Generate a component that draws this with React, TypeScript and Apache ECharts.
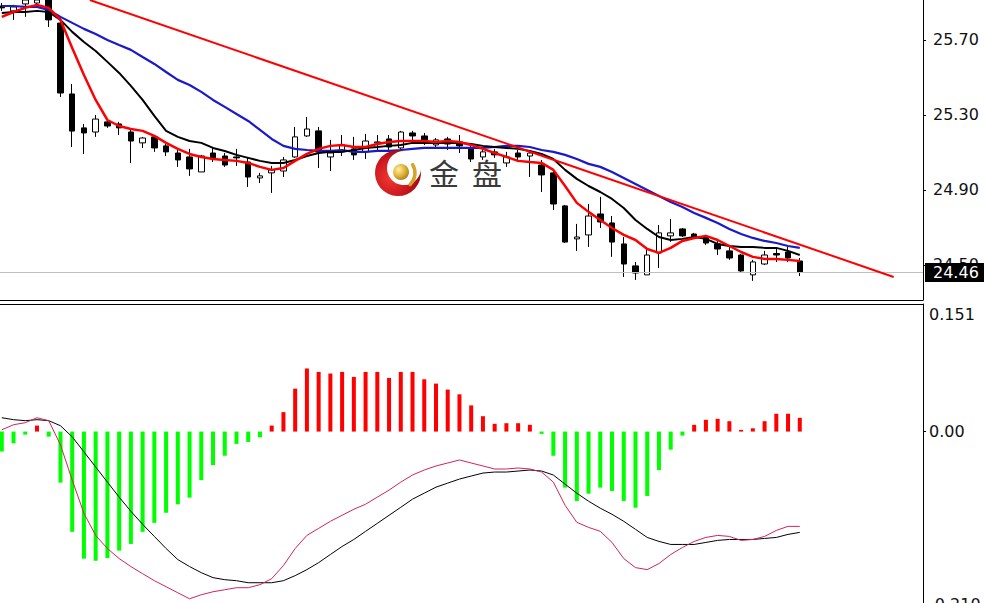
import React, { useEffect, useRef } from "react";
import * as echarts from "echarts";

// ---- price candles (open, close, low, high) ----
const opens = [
  25.881, 25.855, 25.892, 25.897, 25.924, 25.79, 25.412, 25.231, 25.209, 25.263,
  25.252, 25.209, 25.151, 25.183, 25.135, 25.097, 25.076, 24.996, 25.097, 25.081,
  25.076, 25.049, 24.964, 24.991, 25.001, 25.076, 25.188, 25.215, 25.076, 25.103,
  25.119, 25.103, 25.151, 25.172, 25.124, 25.204, 25.188, 25.14, 25.172, 25.156,
  25.119, 25.076, 25.103, 25.044, 25.097, 25.081, 25.033, 24.991, 24.815, 24.639,
  24.66, 24.772, 24.724, 24.612, 24.495, 24.447, 24.564, 24.655, 24.692, 24.665,
  24.649, 24.612, 24.575, 24.553, 24.447, 24.505, 24.561, 24.569, 24.521,
];
const closes = [
  25.871, 25.876, 25.913, 25.913, 25.807, 25.417, 25.214, 25.204, 25.278, 25.241,
  25.231, 25.161, 25.177, 25.124, 25.103, 25.06, 25.012, 25.081, 25.071, 25.033,
  25.071, 24.969, 24.975, 25.007, 25.06, 25.183, 25.225, 25.103, 25.097, 25.14,
  25.087, 25.161, 25.156, 25.129, 25.209, 25.188, 25.167, 25.167, 25.145, 25.135,
  25.065, 25.103, 25.087, 25.076, 25.076, 25.097, 24.98, 24.825, 24.622, 24.649,
  24.761, 24.729, 24.622, 24.505, 24.457, 24.553, 24.671, 24.671, 24.655, 24.644,
  24.617, 24.585, 24.537, 24.468, 24.516, 24.553, 24.553, 24.537, 24.463,
];
const lows = [
  25.855, 25.807, 25.823, 25.871, 25.769, 25.396, 25.129, 25.092, 25.183, 25.231,
  25.193, 25.044, 25.124, 25.103, 25.081, 25.023, 24.975, 24.996, 25.049, 25.023,
  25.028, 24.916, 24.937, 24.884, 24.969, 25.071, 25.183, 25.017, 25.001, 25.081,
  25.06, 25.065, 25.113, 25.113, 25.113, 25.167, 25.14, 25.129, 25.113, 25.097,
  25.049, 25.06, 25.071, 25.023, 25.049, 24.969, 24.889, 24.793, 24.617, 24.575,
  24.596, 24.697, 24.543, 24.436, 24.42, 24.447, 24.484, 24.623, 24.649, 24.639,
  24.607, 24.553, 24.527, 24.463, 24.415, 24.5, 24.516, 24.516, 24.441,
];
const highs = [
  25.897, 25.887, 25.929, 25.924, 25.945, 25.817, 25.465, 25.252, 25.3, 25.278,
  25.263, 25.22, 25.183, 25.193, 25.145, 25.113, 25.119, 25.087, 25.124, 25.097,
  25.119, 25.071, 24.991, 25.028, 25.076, 25.236, 25.289, 25.236, 25.167, 25.193,
  25.183, 25.199, 25.193, 25.193, 25.215, 25.215, 25.204, 25.177, 25.183, 25.193,
  25.135, 25.124, 25.119, 25.103, 25.113, 25.103, 25.06, 25.007, 24.82, 24.719,
  24.825, 24.863, 24.761, 24.649, 24.516, 24.596, 24.713, 24.745, 24.697, 24.671,
  24.66, 24.628, 24.607, 24.559, 24.527, 24.575, 24.591, 24.596, 24.537,
];

// ---- moving averages ----
const maFast = [
  25.823, 25.849, 25.871, 25.887, 25.871, 25.807, 25.657, 25.513, 25.38, 25.273,
  25.241, 25.225, 25.215, 25.188, 25.151, 25.119, 25.092, 25.076, 25.065, 25.06,
  25.055, 25.044, 25.023, 25.007, 25.017, 25.055, 25.092, 25.119, 25.135, 25.14,
  25.129, 25.129, 25.145, 25.156, 25.161, 25.161, 25.161, 25.156, 25.161, 25.156,
  25.14, 25.119, 25.097, 25.076, 25.055, 25.049, 25.044, 25.007, 24.921, 24.831,
  24.783, 24.74, 24.697, 24.66, 24.633, 24.585, 24.564, 24.591, 24.628, 24.644,
  24.655, 24.633, 24.601, 24.569, 24.543, 24.532, 24.532, 24.527, 24.521,
];
const maMid = [
  25.844, 25.849, 25.849, 25.855, 25.849, 25.807, 25.743, 25.689, 25.641, 25.583,
  25.524, 25.455, 25.38, 25.295, 25.215, 25.183, 25.161, 25.151, 25.124, 25.108,
  25.087, 25.071, 25.055, 25.044, 25.044, 25.06, 25.081, 25.097, 25.103, 25.103,
  25.113, 25.124, 25.129, 25.135, 25.14, 25.151, 25.151, 25.151, 25.151, 25.151,
  25.145, 25.135, 25.129, 25.124, 25.119, 25.108, 25.092, 25.065, 25.007, 24.959,
  24.921, 24.889, 24.852, 24.804, 24.74, 24.692, 24.649, 24.633, 24.639, 24.649,
  24.639, 24.612, 24.601, 24.596, 24.596, 24.591, 24.591, 24.575, 24.553,
];
const maSlow = [
  25.881, 25.881, 25.876, 25.876, 25.86, 25.823, 25.791, 25.759, 25.732, 25.7,
  25.673, 25.647, 25.609, 25.572, 25.529, 25.487, 25.46, 25.423, 25.38, 25.343,
  25.305, 25.268, 25.22, 25.172, 25.135, 25.119, 25.113, 25.108, 25.108, 25.113,
  25.103, 25.103, 25.108, 25.108, 25.113, 25.119, 25.124, 25.124, 25.124, 25.124,
  25.124, 25.124, 25.129, 25.135, 25.135, 25.129, 25.113, 25.103, 25.087, 25.065,
  25.039, 25.023, 24.996, 24.964, 24.932, 24.9, 24.868, 24.836, 24.809, 24.777,
  24.751, 24.724, 24.692, 24.665, 24.644, 24.628, 24.617, 24.601, 24.591,
];

// ---- trend line (bar position, price) ----
const trendX = [7.5, 76.0];
const trendY = [25.913, 24.436];

// ---- MACD ----
const macdHist = [
  -0.0235, -0.0139, -0.0036, 0.0071, -0.006, -0.0604, -0.1187, -0.1504, -0.1528, -0.1497,
  -0.1409, -0.133, -0.1187, -0.108, -0.0961, -0.0861, -0.0782, -0.0575, -0.0397, -0.0286,
  -0.0146, -0.0123, -0.0068, 0.0071, 0.023, 0.0508, 0.0747, 0.0706, 0.0687, 0.0706,
  0.0647, 0.0706, 0.0706, 0.0635, 0.0706, 0.0706, 0.0619, 0.0568, 0.0497, 0.0441,
  0.031, 0.0182, 0.0092, 0.0099, 0.0099, 0.008, -0.0027, -0.0286, -0.0663, -0.0822,
  -0.0735, -0.0663, -0.0703, -0.0822, -0.0901, -0.0762, -0.0456, -0.0214, -0.0048, 0.008,
  0.0139, 0.0151, 0.0123, 0.002, 0.0039, 0.0123, 0.0211, 0.0211, 0.0163,
];
const macdSignal = [
  0.0164, 0.0141, 0.0129, 0.0141, 0.0129, 0.0069, -0.0062, -0.024, -0.0419, -0.0598,
  -0.0776, -0.0943, -0.1098, -0.1241, -0.1384, -0.1515, -0.1598, -0.167, -0.1729, -0.1753,
  -0.1765, -0.1789, -0.1789, -0.1789, -0.1765, -0.1705, -0.1634, -0.1551, -0.1455, -0.136,
  -0.1277, -0.1181, -0.1086, -0.0991, -0.0896, -0.08, -0.0729, -0.0658, -0.061, -0.0562,
  -0.0526, -0.0491, -0.0479, -0.0479, -0.0467, -0.0455, -0.0467, -0.0514, -0.0622, -0.0729,
  -0.0824, -0.0907, -0.0979, -0.1062, -0.1157, -0.1253, -0.13, -0.1336, -0.1336, -0.1336,
  -0.1312, -0.1288, -0.1277, -0.1277, -0.1277, -0.1265, -0.1253, -0.1217, -0.1193,
];
const macdMain = [
  0.0021, 0.0081, 0.0105, 0.0164, 0.0129, -0.0157, -0.0574, -0.0967, -0.1229, -0.1384,
  -0.1503, -0.1598, -0.1682, -0.1765, -0.1836, -0.1908, -0.1979, -0.1931, -0.1896, -0.1872,
  -0.1848, -0.1848, -0.1812, -0.1741, -0.1586, -0.1384, -0.1229, -0.1146, -0.1062, -0.0991,
  -0.0919, -0.086, -0.0776, -0.0693, -0.0598, -0.0514, -0.0455, -0.0407, -0.0372, -0.0336,
  -0.0372, -0.0407, -0.0443, -0.0443, -0.0431, -0.0443, -0.0479, -0.0598, -0.0872, -0.1074,
  -0.1134, -0.1181, -0.1312, -0.1503, -0.161, -0.1634, -0.1562, -0.1455, -0.1372, -0.13,
  -0.1253, -0.1229, -0.1241, -0.1288, -0.1277, -0.1241, -0.117, -0.1122, -0.1122,
];

// ---- axis tick labels ----
const priceTicks = [24.5, 24.9, 25.3, 25.7];
const macdTicks = [0];
const macdTop = 0.151;
const macdBottom = -0.21;
const priceMin = 24.313;
const priceMax = 25.913;

const TOTAL_SLOTS = 79;
const categories = Array.from({ length: TOTAL_SLOTS }, (_, i) => String(i + 1));

const CRESCENT_D =
  "M 6.76 -21.98 A 23 23 0 1 0 22.84 -2.68 A 17 17 0 1 1 6.76 -21.98 Z";
let shapesRegistered = false;
function registerShapes() {
  if (shapesRegistered) return;
  echarts.graphic.registerShape(
    "crescent",
    echarts.graphic.extendPath(CRESCENT_D, {}) as any
  );
  shapesRegistered = true;
}

const AXIS_FONT = "DejaVu Sans";

export default function App() {
  const ref = useRef<HTMLDivElement>(null);

  useEffect(() => {
    document.body.style.margin = "0";
    registerShapes();
    const chart = echarts.init(ref.current as HTMLDivElement, null, {
      renderer: "svg",
    });

    const candleData = opens.map((o, i) => [o, closes[i], lows[i], highs[i]]);
    const lastClose = closes[closes.length - 1];
    const gridLeft = -4.08;
    const gridWidth = 927.08;

    const option: any = {
      animation: false,
      backgroundColor: "#ffffff",
      grid: [
        { left: gridLeft, top: 0, width: gridWidth, height: 300, outerBoundsMode: "none", containLabel: false },
        { left: gridLeft, top: 304, width: gridWidth, height: 305, outerBoundsMode: "none", containLabel: false },
      ],
      xAxis: [
        {
          type: "category",
          gridIndex: 0,
          data: categories,
          boundaryGap: true,
          position: "bottom",
          axisLine: { show: true, onZero: false, lineStyle: { color: "#000", width: 1 } },
          axisTick: { show: false },
          axisLabel: { show: false },
          splitLine: { show: false },
        },
        {
          type: "category",
          gridIndex: 1,
          data: categories,
          boundaryGap: true,
          position: "top",
          axisLine: { show: true, onZero: false, lineStyle: { color: "#000", width: 1 } },
          axisTick: { show: false },
          axisLabel: { show: false },
          splitLine: { show: false },
        },
        {
          type: "value",
          gridIndex: 0,
          min: -0.5,
          max: TOTAL_SLOTS - 0.5,
          show: false,
          axisLine: { show: false, onZero: false },
          splitLine: { show: false },
        },
      ],
      yAxis: [
        {
          type: "value",
          gridIndex: 0,
          position: "right",
          min: priceMin,
          max: priceMax,
          splitLine: { show: false },
          axisLine: { show: true, onZero: false, lineStyle: { color: "#000", width: 1 } },
          axisTick: {
            show: true,
            customValues: priceTicks,
            length: 3,
            lineStyle: { color: "#000" },
          },
          axisLabel: {
            show: true,
            customValues: priceTicks,
            formatter: (v: number) => v.toFixed(2),
            color: "#111",
            fontSize: 16,
            fontFamily: AXIS_FONT,
            margin: 10,
          },
        },
        {
          type: "value",
          gridIndex: 1,
          position: "right",
          min: macdBottom,
          max: macdTop,
          splitLine: { show: false },
          axisLine: { show: true, onZero: false, lineStyle: { color: "#000", width: 1 } },
          axisTick: {
            show: true,
            customValues: macdTicks,
            length: 3,
            lineStyle: { color: "#000" },
          },
          axisLabel: {
            show: true,
            customValues: macdTicks,
            formatter: (v: number) => v.toFixed(2),
            color: "#111",
            fontSize: 16,
            fontFamily: AXIS_FONT,
            margin: 6,
          },
        },
      ],
      series: [
        {
          type: "candlestick",
          xAxisIndex: 0,
          yAxisIndex: 0,
          data: candleData,
          barWidth: 6,
          z: 2,
          itemStyle: {
            color: "#ffffff",
            color0: "#000000",
            borderColor: "#000000",
            borderColor0: "#000000",
            borderWidth: 1,
          },
          markLine: {
            silent: true,
            symbol: ["none", "none"],
            lineStyle: { color: "#c0c0c0", width: 1, type: "solid" },
            label: {
              show: true,
              position: "end",
              distance: 2,
              formatter: () => lastClose.toFixed(2),
              color: "#ffffff",
              backgroundColor: "#000000",
              padding: [2, 6, 1, 8],
              fontSize: 16,
              fontFamily: AXIS_FONT,
            },
            data: [{ yAxis: lastClose }],
          },
        },
        {
          type: "line",
          xAxisIndex: 0,
          yAxisIndex: 0,
          data: maSlow,
          symbol: "none",
          z: 3,
          lineStyle: { color: "#1a1ac8", width: 2.2 },
        },
        {
          type: "line",
          xAxisIndex: 0,
          yAxisIndex: 0,
          data: maMid,
          symbol: "none",
          z: 3,
          lineStyle: { color: "#000000", width: 2 },
        },
        {
          type: "line",
          xAxisIndex: 0,
          yAxisIndex: 0,
          data: maFast,
          symbol: "none",
          z: 4,
          lineStyle: { color: "#ff0000", width: 2.5 },
        },
        {
          type: "line",
          xAxisIndex: 2,
          yAxisIndex: 0,
          data: trendX.map((x, i) => [x, trendY[i]]),
          symbol: "none",
          z: 5,
          lineStyle: { color: "#ff0000", width: 2 },
        },
        {
          type: "bar",
          xAxisIndex: 1,
          yAxisIndex: 1,
          barWidth: 4,
          data: macdHist.map((v) => ({
            value: v,
            itemStyle: { color: v >= 0 ? "#ff0000" : "#00ff00" },
          })),
          z: 2,
        },
        {
          type: "line",
          xAxisIndex: 1,
          yAxisIndex: 1,
          data: macdSignal,
          symbol: "none",
          z: 3,
          lineStyle: { color: "#000000", width: 1 },
        },
        {
          type: "line",
          xAxisIndex: 1,
          yAxisIndex: 1,
          data: macdMain,
          symbol: "none",
          z: 3,
          lineStyle: { color: "#d0245a", width: 1 },
        },
      ],
      graphic: [
        {
          type: "crescent",
          x: 398,
          y: 173,
          z: 100,
          silent: true,
          style: {
            fill: new (echarts.graphic as any).RadialGradient(0.35, 0.6, 0.75, [
              { offset: 0, color: "#f03a30" },
              { offset: 0.6, color: "#c8141c" },
              { offset: 1, color: "#7a0608" },
            ]),
          },
        },
        {
          type: "circle",
          z: 101,
          silent: true,
          shape: { cx: 401, cy: 172, r: 8 },
          style: {
            fill: new (echarts.graphic as any).RadialGradient(0.35, 0.35, 0.8, [
              { offset: 0, color: "#fff1a8" },
              { offset: 0.5, color: "#e0b43a" },
              { offset: 1, color: "#9a7010" },
            ]),
          },
        },
        {
          type: "arc",
          z: 101,
          silent: true,
          shape: { cx: 399, cy: 173, r: 16, startAngle: -0.55, endAngle: 0.8 },
          style: { stroke: "#d4a52a", lineWidth: 3.5, fill: null, lineCap: "round" },
        },
        {
          type: "text",
          z: 101,
          silent: true,
          style: {
            text: "金",
            x: 444,
            y: 172,
            font: '30px "Noto Sans CJK SC"',
            fill: "#3a3a3a",
            align: "center",
            verticalAlign: "middle",
            textAlign: "center",
            textVerticalAlign: "middle",
          },
        },
        {
          type: "text",
          z: 101,
          silent: true,
          style: {
            text: "盘",
            x: 487,
            y: 172,
            font: '30px "Noto Sans CJK SC"',
            fill: "#3a3a3a",
            align: "center",
            verticalAlign: "middle",
            textAlign: "center",
            textVerticalAlign: "middle",
          },
        },
        {
          type: "text",
          z: 50,
          silent: true,
          style: {
            text: macdTop.toFixed(3),
            x: 929,
            y: 314,
            font: `16px "${AXIS_FONT}"`,
            fill: "#111",
            align: "left",
            verticalAlign: "middle",
            textAlign: "left",
            textVerticalAlign: "middle",
          },
        },
        {
          type: "text",
          z: 50,
          silent: true,
          style: {
            text: macdBottom.toFixed(3),
            x: 929,
            y: 604,
            font: `16px "${AXIS_FONT}"`,
            fill: "#111",
            align: "left",
            verticalAlign: "middle",
            textAlign: "left",
            textVerticalAlign: "middle",
          },
        },
      ],
    };

    chart.setOption(option);
    return () => {
      chart.dispose();
    };
  }, []);

  return (
    <div
      ref={ref}
      style={{
        position: "fixed",
        left: 0,
        top: 0,
        width: 984,
        height: 609,
        background: "#ffffff",
      }}
    />
  );
}
